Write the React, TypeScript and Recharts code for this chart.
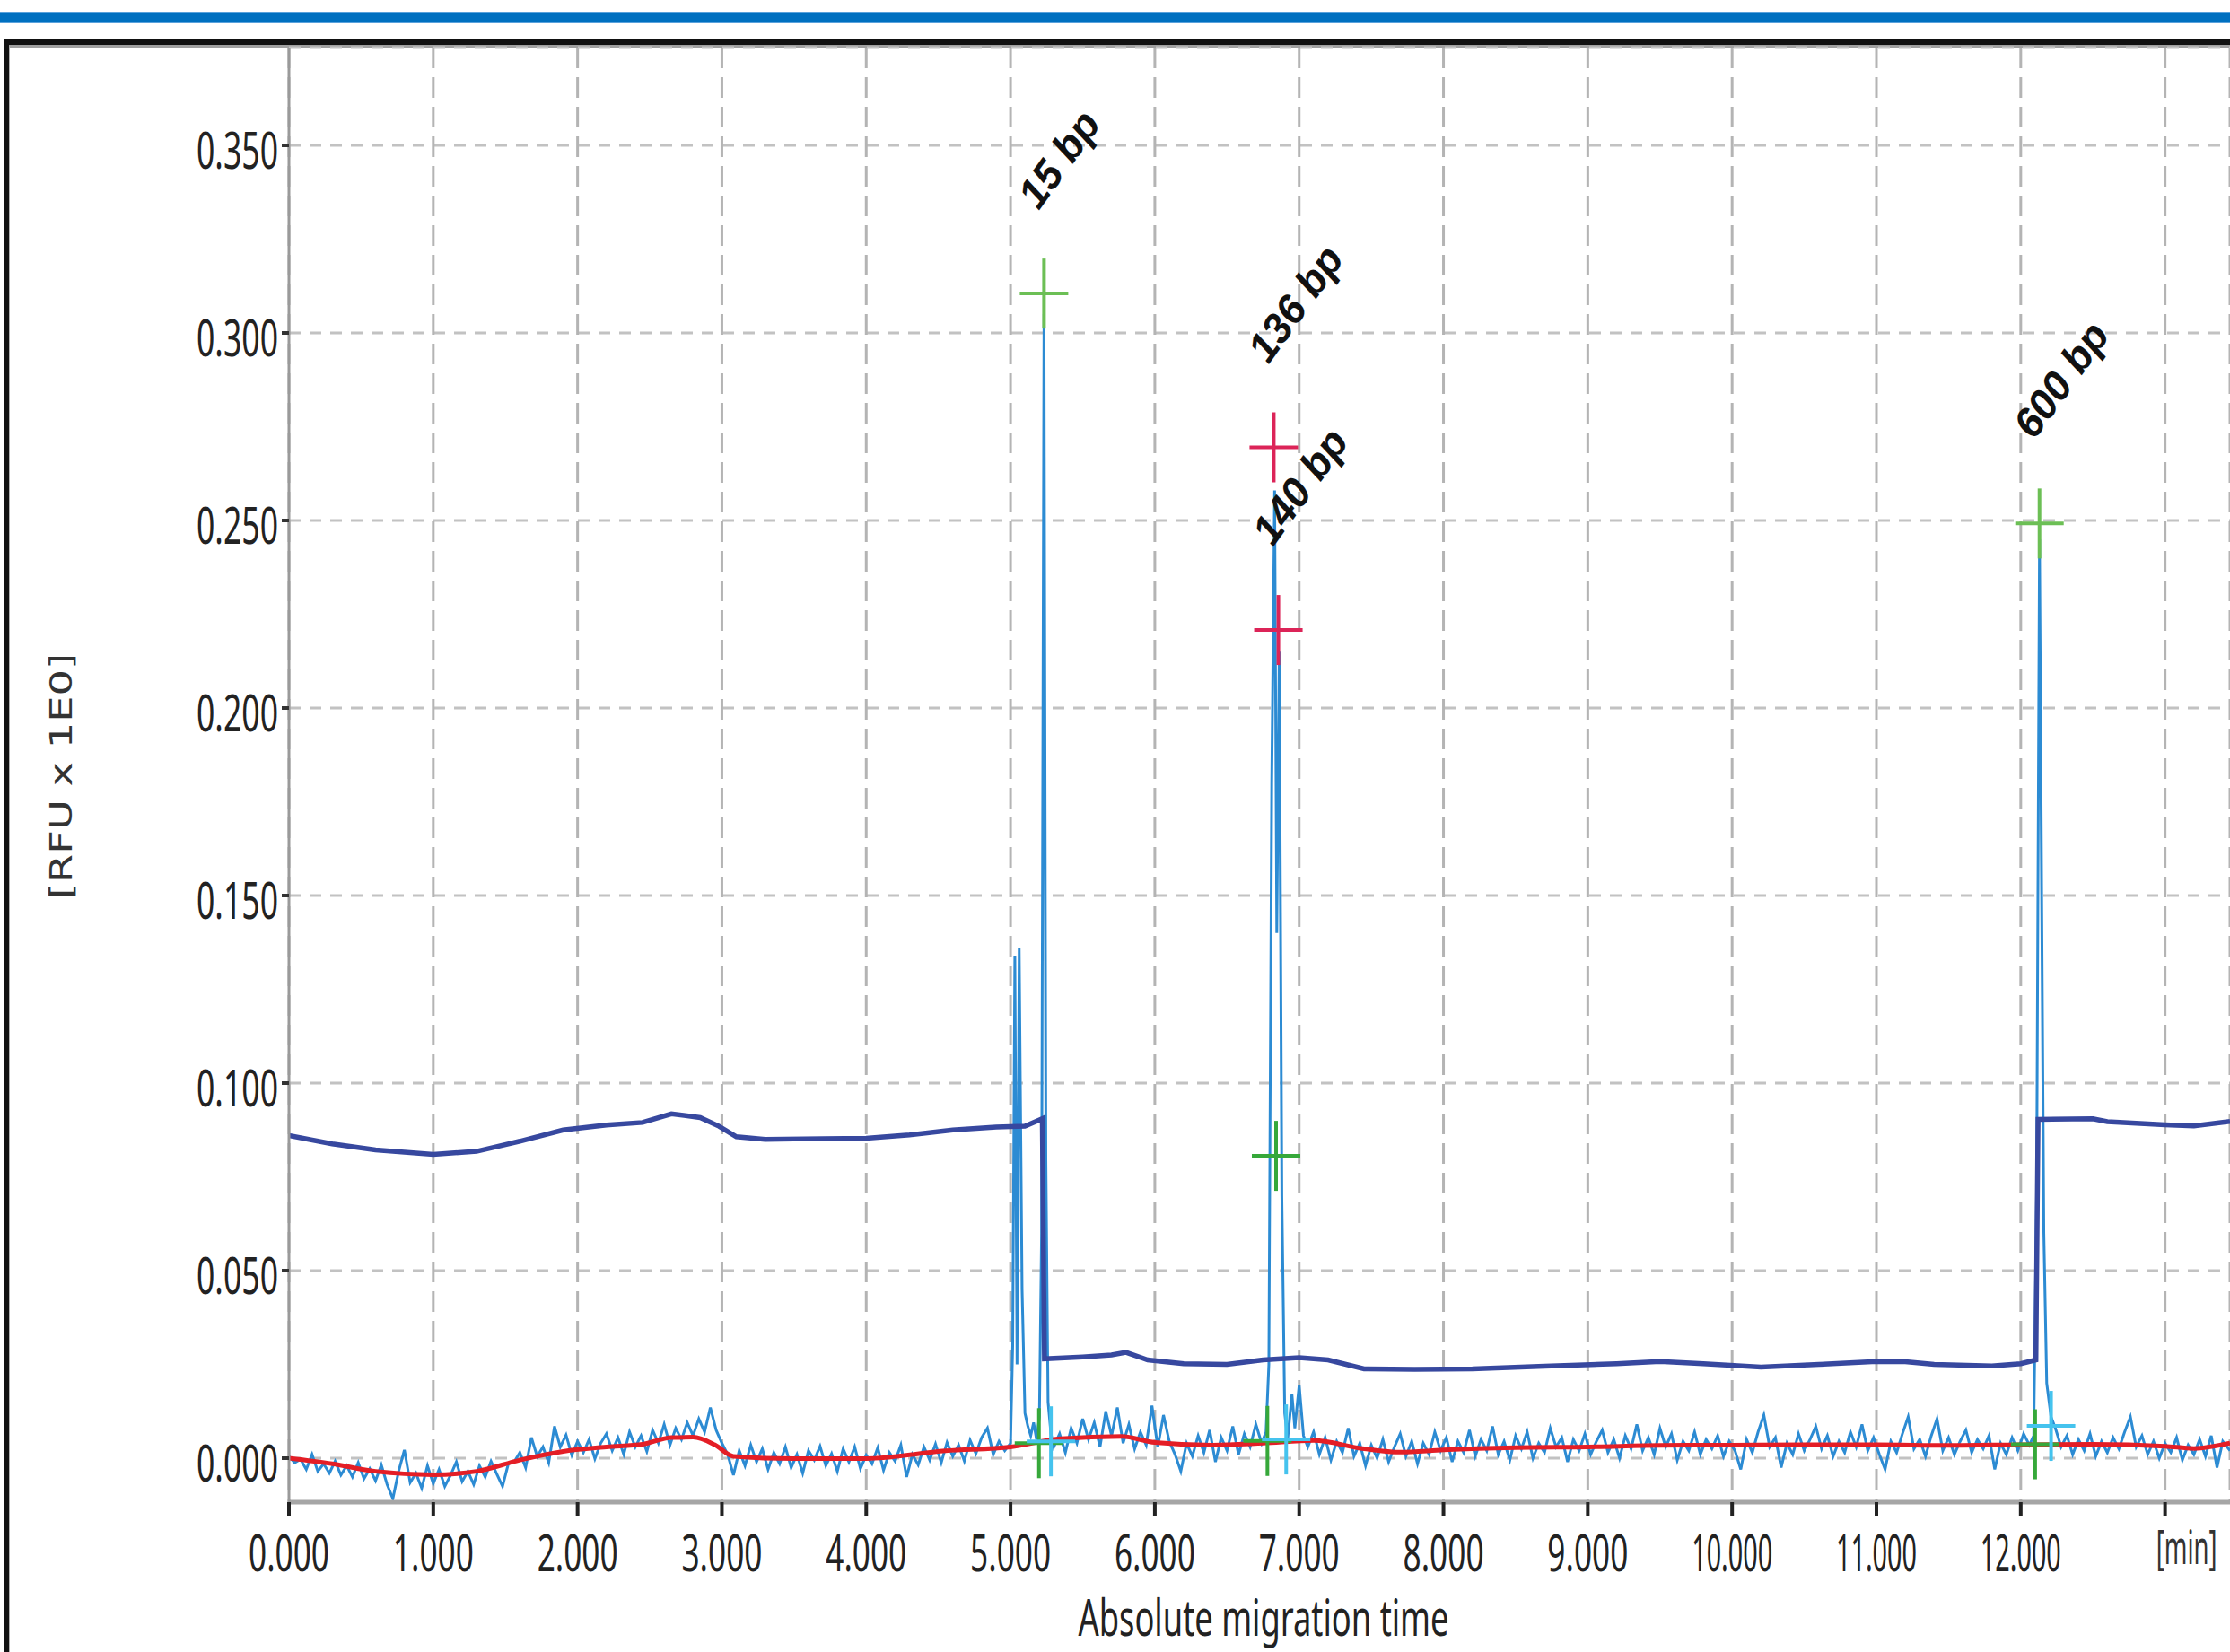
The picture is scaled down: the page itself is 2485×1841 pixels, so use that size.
import React from "react"
import { ComposedChart, Line, Scatter, XAxis, YAxis, CartesianGrid, Label } from "recharts"

// migration time [min] vs RFU
const xTicks = [0, 1, 2, 3, 4, 5, 6, 7, 8, 9, 10, 11, 12, 13]
const yTicks = [0, 0.05, 0.1, 0.15, 0.2, 0.25, 0.3, 0.35]

// dark blue trace
const navyTrace: [number, number][] = [
  [0, 0.086], [0.3, 0.0838], [0.6, 0.0822], [1.0, 0.081], [1.3, 0.0818], [1.6, 0.0845],
  [1.9, 0.0875], [2.2, 0.0888], [2.45, 0.0895], [2.65, 0.0918], [2.85, 0.0908], [2.98, 0.0885],
  [3.1, 0.0857], [3.3, 0.085], [3.7, 0.0852], [4.0, 0.0853], [4.3, 0.0862], [4.6, 0.0875],
  [4.9, 0.0883], [5.1, 0.0885], [5.22, 0.0905], [5.235, 0.0265], [5.5, 0.027], [5.7, 0.0275],
  [5.8, 0.0282], [5.95, 0.0262], [6.2, 0.0252], [6.5, 0.025], [6.75, 0.0262], [7.0, 0.0268],
  [7.2, 0.0262], [7.45, 0.0238], [7.8, 0.0237], [8.2, 0.0238], [8.7, 0.0245], [9.2, 0.0252],
  [9.5, 0.0258], [9.8, 0.0252], [10.2, 0.0243], [10.6, 0.025], [11.0, 0.0258], [11.2, 0.0257],
  [11.4, 0.025], [11.8, 0.0246], [12.0, 0.0252], [12.105, 0.0262], [12.12, 0.0903], [12.5, 0.0905],
  [12.6, 0.0897], [13.0, 0.0889], [13.2, 0.0886], [13.45, 0.0898],
]

// red baseline
const baselineTrace: [number, number][] = [
  [0, 0.0], [0.3, -0.0015], [0.6, -0.0035], [1.0, -0.0044], [1.3, -0.0035], [1.6, -0.0005],
  [1.9, 0.0018], [2.2, 0.003], [2.45, 0.0037], [2.65, 0.0055], [2.8, 0.0056], [2.95, 0.0036],
  [3.08, 0.0005], [3.5, -0.0001], [4.0, -0.0001], [4.55, 0.002], [5.0, 0.003], [5.35, 0.0052],
  [5.77, 0.0058], [6.0, 0.0042], [6.4, 0.0035], [6.75, 0.004], [7.1, 0.0047], [7.45, 0.0025],
  [7.7, 0.0016], [8.0, 0.0022], [8.5, 0.0028], [9.0, 0.003], [9.5, 0.0034], [10.0, 0.0035],
  [10.5, 0.0036], [11.0, 0.0036], [11.5, 0.0034], [12.0, 0.0036], [12.5, 0.0037], [13.0, 0.0032],
  [13.2, 0.0026], [13.45, 0.004],
]

// raw signal (light blue)
const signalTrace: [number, number][] = [
  [0.0, 0.0005], [0.04, -0.0012], [0.08, -0.0003], [0.12, -0.003], [0.16, 0.001], [0.2, -0.0035],
  [0.24, -0.0015], [0.28, -0.004], [0.32, -0.0008], [0.36, -0.0045], [0.4, -0.002], [0.44, -0.005],
  [0.48, -0.0012], [0.52, -0.0055], [0.56, -0.0028], [0.6, -0.006], [0.64, -0.0018], [0.68, -0.007],
  [0.72, -0.0108], [0.76, -0.0035], [0.8, 0.0022], [0.84, -0.0065], [0.88, -0.004], [0.92, -0.008],
  [0.96, -0.002], [1.0, -0.0068], [1.04, -0.003], [1.08, -0.0075], [1.12, -0.0045], [1.16, -0.001],
  [1.2, -0.0062], [1.24, -0.0035], [1.28, -0.007], [1.32, -0.002], [1.36, -0.005], [1.4, -0.0008],
  [1.44, -0.0042], [1.48, -0.0075], [1.52, -0.0015], [1.56, -0.001], [1.6, 0.0015], [1.64, -0.0025],
  [1.68, 0.0055], [1.72, 0.0005], [1.76, 0.003], [1.8, -0.0012], [1.84, 0.0085], [1.88, 0.003],
  [1.92, 0.0062], [1.96, 0.0008], [2.0, 0.0045], [2.04, 0.0015], [2.08, 0.005], [2.12, -0.0002],
  [2.16, 0.004], [2.2, 0.0065], [2.24, 0.002], [2.28, 0.0055], [2.32, 0.001], [2.36, 0.007],
  [2.4, 0.003], [2.44, 0.006], [2.48, 0.0018], [2.52, 0.0075], [2.56, 0.004], [2.6, 0.009],
  [2.64, 0.0035], [2.68, 0.008], [2.72, 0.005], [2.76, 0.0095], [2.8, 0.006], [2.84, 0.0105],
  [2.88, 0.007], [2.92, 0.0135], [2.96, 0.0075], [3.0, 0.004], [3.04, 0.001], [3.08, -0.0045],
  [3.12, 0.002], [3.16, -0.002], [3.2, 0.0035], [3.24, -0.001], [3.28, 0.0025], [3.32, -0.003],
  [3.36, 0.0015], [3.4, -0.0015], [3.44, 0.003], [3.48, -0.0025], [3.52, 0.001], [3.56, -0.004],
  [3.6, 0.002], [3.64, -0.0005], [3.68, 0.0032], [3.72, -0.002], [3.76, 0.0012], [3.8, -0.0035],
  [3.84, 0.0025], [3.88, -0.001], [3.92, 0.003], [3.96, -0.0028], [4.0, 0.0008], [4.04, -0.0015],
  [4.08, 0.0028], [4.12, -0.0032], [4.16, 0.0015], [4.2, -0.0008], [4.24, 0.0035], [4.28, -0.005],
  [4.32, 0.001], [4.36, -0.0018], [4.4, 0.003], [4.44, -0.0005], [4.48, 0.0038], [4.52, -0.0012],
  [4.56, 0.0042], [4.6, 0.0005], [4.64, 0.0035], [4.68, -0.0008], [4.72, 0.0048], [4.76, 0.0012],
  [4.8, 0.0055], [4.84, 0.008], [4.88, 0.001], [4.92, 0.0045], [4.96, 0.002],
  [5.0, 0.004], [5.015, 0.03], [5.03, 0.134], [5.045, 0.025], [5.06, 0.136], [5.08, 0.045],
  [5.1, 0.012], [5.12, 0.0085], [5.14, 0.006], [5.16, 0.0095], [5.18, 0.005], [5.2, 0.011],
  [5.215, 0.06], [5.232, 0.305], [5.245, 0.08], [5.26, 0.015], [5.28, 0.0065],
  [5.3, 0.003], [5.34, 0.0065], [5.38, 0.0015], [5.42, 0.008], [5.46, 0.004], [5.5, 0.0105],
  [5.54, 0.005], [5.58, 0.0095], [5.62, 0.003], [5.66, 0.0125], [5.7, 0.006], [5.74, 0.0135],
  [5.78, 0.004], [5.82, 0.009], [5.86, 0.0025], [5.9, 0.007], [5.94, 0.0035], [5.98, 0.014],
  [6.02, 0.003], [6.06, 0.0115], [6.1, 0.0045], [6.14, 0.001], [6.18, -0.0035], [6.22, 0.004],
  [6.26, 0.0005], [6.3, 0.006], [6.34, 0.0015], [6.38, 0.0075], [6.42, -0.001], [6.46, 0.0055],
  [6.5, 0.002], [6.54, 0.0085], [6.58, 0.001], [6.62, 0.0065], [6.66, 0.003], [6.7, 0.009],
  [6.74, 0.004], [6.77, 0.007],
  [6.79, 0.025], [6.81, 0.18], [6.83, 0.258], [6.845, 0.14], [6.862, 0.215], [6.88, 0.07],
  [6.9, 0.012], [6.92, 0.005], [6.95, 0.017], [6.97, 0.008], [7.0, 0.0195], [7.03, 0.006],
  [7.06, 0.003],
  [7.1, 0.007], [7.14, 0.001], [7.18, 0.0055], [7.22, -0.0005], [7.26, 0.0045], [7.3, 0.0015],
  [7.34, 0.008], [7.38, 0.0005], [7.42, 0.004], [7.46, -0.002], [7.5, 0.0035], [7.54, 0.0],
  [7.58, 0.005], [7.62, -0.001], [7.66, 0.003], [7.7, 0.0065], [7.74, 0.0005], [7.78, 0.0045],
  [7.82, -0.0015], [7.86, 0.004], [7.9, 0.001], [7.94, 0.007], [7.98, 0.002], [8.02, 0.0055],
  [8.06, -0.001], [8.1, 0.0045], [8.14, 0.0015], [8.18, 0.0075], [8.22, 0.0005], [8.26, 0.005],
  [8.3, 0.002], [8.34, 0.0085], [8.38, 0.001], [8.42, 0.0045], [8.46, -0.0005], [8.5, 0.006],
  [8.54, 0.0025], [8.58, 0.007], [8.62, 0.0], [8.66, 0.004], [8.7, 0.0015], [8.74, 0.008],
  [8.78, 0.003], [8.82, 0.0055], [8.86, -0.001], [8.9, 0.005], [8.94, 0.002], [8.98, 0.0065],
  [9.02, 0.001], [9.06, 0.0045], [9.1, 0.0075], [9.14, 0.0015], [9.18, 0.005], [9.22, 0.0],
  [9.26, 0.006], [9.3, 0.0025], [9.34, 0.009], [9.38, 0.002], [9.42, 0.0055], [9.46, 0.001],
  [9.5, 0.008], [9.54, 0.003], [9.58, 0.0065], [9.62, -0.0005], [9.66, 0.0045], [9.7, 0.002],
  [9.74, 0.007], [9.78, 0.001], [9.82, 0.005], [9.86, 0.0025], [9.9, 0.006], [9.94, 0.0005],
  [9.98, 0.0045], [10.02, 0.002], [10.06, -0.003], [10.1, 0.005], [10.14, 0.0015], [10.18, 0.007],
  [10.22, 0.0115], [10.26, 0.003], [10.3, 0.0055], [10.34, -0.0025], [10.38, 0.004], [10.42, 0.001],
  [10.46, 0.0065], [10.5, 0.002], [10.54, 0.005], [10.58, 0.0085], [10.62, 0.0025], [10.66, 0.006],
  [10.7, 0.0005], [10.74, 0.0045], [10.78, 0.0015], [10.82, 0.007], [10.86, 0.003], [10.9, 0.009],
  [10.94, 0.002], [10.98, 0.0055], [11.02, 0.001], [11.06, -0.003], [11.1, 0.0045], [11.14, 0.0015],
  [11.18, 0.0065], [11.22, 0.011], [11.26, 0.0025], [11.3, 0.005], [11.34, 0.0005], [11.38, 0.006],
  [11.42, 0.0105], [11.46, 0.002], [11.5, 0.0055], [11.54, 0.001], [11.58, 0.0045], [11.62, 0.0075],
  [11.66, 0.0015], [11.7, 0.005], [11.74, 0.0025], [11.78, 0.006], [11.82, -0.003], [11.86, 0.004],
  [11.9, 0.001], [11.94, 0.0055], [11.98, 0.002], [12.02, 0.0065], [12.06, 0.0035],
  [12.09, 0.006], [12.11, 0.07], [12.13, 0.245], [12.145, 0.15], [12.16, 0.06], [12.18, 0.02],
  [12.21, 0.011], [12.24, 0.008],
  [12.28, 0.003], [12.32, 0.006], [12.36, 0.001], [12.4, 0.005], [12.44, 0.002], [12.48, 0.0065],
  [12.52, 0.0005], [12.56, 0.0045], [12.6, 0.0015], [12.64, 0.0055], [12.68, 0.0025], [12.72, 0.007],
  [12.76, 0.011], [12.8, 0.003], [12.84, 0.006], [12.88, 0.001], [12.92, 0.0045], [12.96, 0.0],
  [13.0, 0.004], [13.04, 0.0015], [13.08, 0.0055], [13.12, -0.0005], [13.16, 0.0035], [13.2, 0.001],
  [13.24, 0.005], [13.28, 0.0005], [13.32, 0.006], [13.36, -0.0025], [13.4, 0.0045], [13.45, 0.002],
]

// peak markers
const peakMarkers = [
  { t: 5.232, v: 0.3105, label: "15 bp", kind: "size" },
  { t: 6.824, v: 0.2695, label: "136 bp", kind: "sample" },
  { t: 6.856, v: 0.2208, label: "140 bp", kind: "sample" },
  { t: 6.84, v: 0.0806, label: "", kind: "check" },
  { t: 12.13, v: 0.2492, label: "600 bp", kind: "size" },
]
const peakStarts = [
  { t: 5.197, v: 0.004 },
  { t: 6.78, v: 0.0046 },
  { t: 12.1, v: 0.0037 },
]
const peakEnds = [
  { t: 5.28, v: 0.0045 },
  { t: 6.91, v: 0.005 },
  { t: 12.21, v: 0.0086 },
]

const markerColors: Record<string, string> = {
  size: "#6cbf55",
  sample: "#dc2458",
  check: "#36a83a",
  start: "#36a83a",
  end: "#45c3ee",
}

const toPoints = (arr: [number, number][]) => arr.map(([t, v]) => ({ t, v }))

const numFont = "'Noto Sans', 'Open Sans', sans-serif"

const YTick = (props: any) => {
  const { x, y, payload } = props
  return (
    <text x={x - 2} y={y + 26} textAnchor="end" fontSize={56} fontFamily={numFont} fill="#222"
      textLength={91} lengthAdjust="spacingAndGlyphs">
      {payload.value.toFixed(3)}
    </text>
  )
}

const XTick = (props: any) => {
  const { x, y, payload } = props
  if (payload.value === 13) {
    return (
      <text x={x - 10} y={y + 52} textAnchor="start" fontSize={52} fontFamily={numFont} fill="#333"
        textLength={68} lengthAdjust="spacingAndGlyphs">
        [min]
      </text>
    )
  }
  return (
    <text x={x} y={y + 60} textAnchor="middle" fontSize={56} fontFamily={numFont} fill="#222"
      textLength={90} lengthAdjust="spacingAndGlyphs">
      {payload.value.toFixed(3)}
    </text>
  )
}

const makeCross = (kind?: string) => (props: any) => {
  const { cx, cy, payload } = props
  const color = markerColors[kind || payload.kind]
  return (
    <g>
      <line x1={cx - 27} x2={cx + 27} y1={cy} y2={cy} stroke={color} strokeWidth={4} />
      <line x1={cx} x2={cx} y1={cy - 39} y2={cy + 39} stroke={color} strokeWidth={4} />
      {payload.label ? (
        <text transform={`translate(${cx - 6},${cy - 92}) rotate(-54)`} fontSize={46}
          fontWeight="bold" fontStyle="italic" fontFamily="'Liberation Sans', Arial, sans-serif" fill="#111">
          {payload.label}
        </text>
      ) : null}
    </g>
  )
}

export default function App() {
  return (
    <div style={{ position: "fixed", left: 0, top: 0, width: 2485, height: 1841, overflow: "hidden", background: "#fff" }}>
      <div style={{ position: "absolute", left: 0, top: 13, width: 2485, height: 11, background: "#0070c0",
        borderTop: "1px solid #5aa2dc", borderBottom: "1px solid #5aa2dc" }} />
      <div style={{ position: "absolute", left: 5, top: 43, width: 2600, height: 1900,
        borderTop: "7px solid #111", borderLeft: "5px solid #111" }} />
      <div style={{ position: "absolute", left: 10, top: 50, width: 2600, height: 1900,
        borderTop: "3px solid #a0a0a0", borderLeft: "1px solid #b0b0b0" }} />
      <div style={{ position: "absolute", left: 0, top: 0 }}>
        <ComposedChart width={2485} height={1841} margin={{ top: 53, right: 0, bottom: 0, left: 0 }}>
          <CartesianGrid horizontal vertical={false} stroke="#c2c2c2" strokeWidth={3} strokeDasharray="13 10" />
          <CartesianGrid horizontal={false} vertical stroke="#b4b4b4" strokeWidth={3} strokeDasharray="23 10" />
          <XAxis type="number" dataKey="t" domain={[0, 13.45]} ticks={xTicks} interval={0} allowDataOverflow
            height={167} tick={<XTick />} tickSize={15} tickLine={{ stroke: "#222", strokeWidth: 4 }}
            axisLine={{ stroke: "#a6a6a6", strokeWidth: 5 }}>
            <Label content={() => (
              <text x={1408} y={1823} textAnchor="middle" fontSize={56} fontFamily={numFont} fill="#222"
                textLength={413} lengthAdjust="spacingAndGlyphs">
                Absolute migration time
              </text>
            )} />
          </XAxis>
          <YAxis type="number" domain={[-0.01172, 0.37608]} ticks={yTicks} interval={0} allowDataOverflow
            width={322} tick={<YTick />} tickSize={8} tickLine={{ stroke: "#333", strokeWidth: 4 }}
            axisLine={{ stroke: "#9a9a9a", strokeWidth: 3 }}>
            <Label content={() => (
              <text transform="translate(80,865) rotate(-90)" textAnchor="middle" fontSize={34}
                fontFamily="'DejaVu Sans', sans-serif" fill="#333" textLength={274} lengthAdjust="spacingAndGlyphs">
                [RFU x 1E0]
              </text>
            )} />
          </YAxis>
          <Line data={toPoints(signalTrace)} dataKey="v" type="linear" stroke="#2c8bd3" strokeWidth={3}
            dot={false} isAnimationActive={false} />
          <Line data={toPoints(baselineTrace)} dataKey="v" type="monotone" stroke="#e41e26" strokeWidth={5}
            dot={false} isAnimationActive={false} />
          <Line data={toPoints(navyTrace)} dataKey="v" type="linear" stroke="#37489f" strokeWidth={5.5}
            dot={false} isAnimationActive={false} />
          <Scatter data={peakStarts} dataKey="v" shape={makeCross("start")} isAnimationActive={false} />
          <Scatter data={peakEnds} dataKey="v" shape={makeCross("end")} isAnimationActive={false} />
          <Scatter data={peakMarkers} dataKey="v" shape={makeCross()} isAnimationActive={false} />
        </ComposedChart>
      </div>
    </div>
  )
}
